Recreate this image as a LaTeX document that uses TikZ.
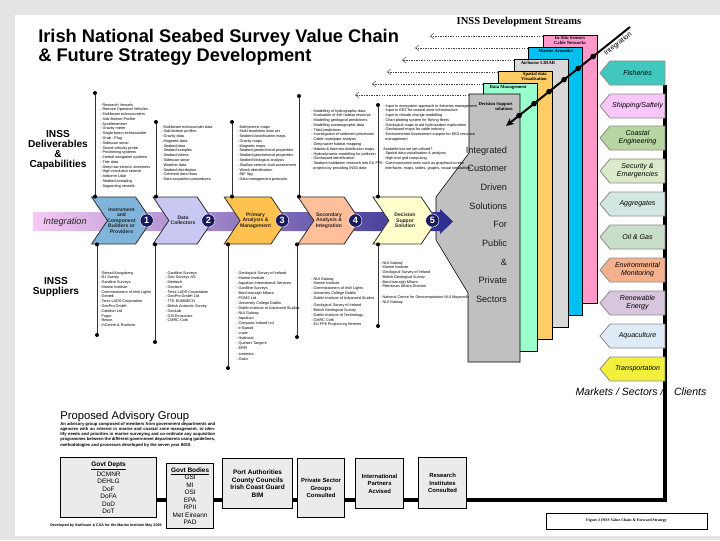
\documentclass[tikz,border=0pt]{standalone}
\usepackage{fontspec}
\setmainfont{Liberation Sans}
\newfontfamily\timesfont{Liberation Serif}
\usetikzlibrary{
  arrows.meta,
  shapes.symbols,
  positioning,
  calc,
  backgrounds
}
\definecolor{vcPage}{HTML}{E4E4E4}
\definecolor{vcBuild}{HTML}{80B4DA}
\definecolor{vcCollect}{HTML}{C8C8F2}
\definecolor{vcPrimary}{HTML}{FFC24E}
\definecolor{vcSecond}{HTML}{FFBF9A}
\definecolor{vcDecide}{HTML}{FFFFCC}
\definecolor{vcNavy}{HTML}{1A1A5E}
\definecolor{vcBandL}{HTML}{F6C8F4}
\definecolor{vcBandM}{HTML}{A47ACC}
\definecolor{vcBandR}{HTML}{2A2A8E}
\definecolor{vcSolve}{HTML}{C0C0C0}
\definecolor{stSensor}{HTML}{FF99CC}
\definecolor{stAcoustic}{HTML}{00C0F0}
\definecolor{stLidar}{HTML}{D9D9D9}
\definecolor{stVisual}{HTML}{FFCC66}
\definecolor{stData}{HTML}{99FFCC}
\definecolor{mkFish}{HTML}{40C8BE}
\definecolor{mkShip}{HTML}{F8C6F8}
\definecolor{mkCoast}{HTML}{B6D6A2}
\definecolor{mkSecure}{HTML}{DCEACC}
\definecolor{mkAggr}{HTML}{D2E6E2}
\definecolor{mkOil}{HTML}{C8DEC8}
\definecolor{mkEnv}{HTML}{F5B08E}
\definecolor{mkRenew}{HTML}{D8C6DE}
\definecolor{mkAqua}{HTML}{DEEAF6}
\definecolor{mkTrans}{HTML}{F2F03C}
\definecolor{advFill}{HTML}{EBEBEB}
\tikzset{
  chev/.style={
    signal, signal from=west, signal to=east, signal pointer angle=112,
    draw=black!80, line width=0.6pt, minimum height=1.175cm, inner sep=0pt,
    font=\fontsize{3.6}{3.9}\selectfont\bfseries, align=center, text=black!85
  },
  numdot/.style={circle, fill=vcNavy, draw=white, line width=0.3pt, text=white,
    font=\fontsize{6.5}{6.5}\selectfont\bfseries, inner sep=0pt, minimum size=3.3mm},
  dot/.style={circle, fill=black, inner sep=0pt, minimum size=1mm},
  bigdot/.style={dot, minimum size=1.4mm},
  stem/.style={line width=0.5pt, black!80},
  itemlist/.style={anchor=north west, align=left, inner sep=0pt,
    font=\fontsize{2.7}{3.4}\selectfont},
  bar/.style={draw=black, line width=0.4pt, anchor=north west,
    minimum width=1.35cm, minimum height=6.7cm, inner sep=0pt},
  barlabel/.style={font=\timesfont\bfseries\fontsize{3.3}{3.6}\selectfont,
    align=center, inner sep=0pt},
  feed/.style={-{Straight Barb[length=0.9mm,width=1.5mm]}, dash pattern=on 1pt off 0.8pt,
    line width=0.3pt, black!75},
  intline/.style={line width=1.4pt, -{Stealth[length=2mm,width=1.8mm]}},
  sign/.style={signal, signal to=west, signal pointer angle=100,
    draw=black!45, line width=0.6pt, minimum width=1.625cm, minimum height=0.6cm,
    inner sep=0pt, font=\fontsize{5}{5.6}\selectfont\itshape, align=center},
  spine/.style={line width=2.2pt},
  titletext/.style={anchor=base west, inner sep=0pt, font=\fontsize{13}{15}\selectfont\bfseries},
  sidehead/.style={font=\fontsize{7.2}{7}\selectfont\bfseries, align=center},
  solveword/.style={anchor=base east, font=\fontsize{6.5}{7}\selectfont, text=black!90},
  advbox/.style={draw, line width=0.8pt, fill=advFill, anchor=north west,
    align=center, inner sep=1pt, font=\fontsize{4.6}{5.3}\selectfont},
  capbox/.style={draw, line width=0.6pt, fill=white, minimum width=4.025cm,
    minimum height=0.4cm, font=\timesfont\bfseries\fontsize{2.8}{3}\selectfont}
}

\begin{document}
\begin{tikzpicture}[x=0.025cm, y=-0.025cm]
  \useasboundingbox (0,0) rectangle (720,540);
  \begin{scope}[on background layer]
    \fill[vcPage] (0,0) rectangle (720,540);
    \fill[white] (15,15) rectangle (720,536);
  \end{scope}

  % titles
  \node[titletext] (title1) at (38,42) {Irish National Seabed Survey Value Chain};
  \node[titletext] (title2) at (38,61) {\& Future Strategy Development};
  \node[font=\timesfont\bfseries\fontsize{7.5}{8}\selectfont] (streams) at (519,22) {INSS Development Streams};

  % development streams
  \node[bar, fill=stSensor] (sensor) at (543,35) {};
  \node[bar, fill=stAcoustic] (acoustic) at (528,47) {};
  \node[bar, fill=stLidar] (lidar) at (514,59) {};
  \node[bar, fill=stVisual] (visual) at (498,71) {};
  \node[bar, fill=stData] (datamg) at (483,83) {};
  \coordinate (solveNW) at (469,94);
  \draw[draw=black, line width=0.4pt, fill=vcSolve] (solveNW) -- (520,94) -- (520,362) -- (468,362)
    -- (468,293) -- (436,240) -- (436,197) -- (469,153) -- cycle;

  \node[barlabel] (sensLbl) at (570,40.5) {In-Situ Sensors\\Cable Networks};
  \node[barlabel] (acouLbl) at (556,51) {Marine Acoustics};
  \node[barlabel] (lidarLbl) at (538,63) {Airborne LIDAR};
  \node[barlabel, align=right] (visLbl) at (534,76) {Spatial data\\Visualisation};
  \node[barlabel] (dataLbl) at (508,87) {Data Management};
  \node[barlabel, align=right, anchor=east] (solveLbl) at (513,106) {Decision Support\\solutions};

  \foreach \k/\yy/\xx/\src in {1/36/430/sensor, 2/48/415/acoustic, 3/60/402/lidar,
                               4/72/387/visual, 5/84/372/datamg, 6/95/355/solveNW}{
    \coordinate (fd\k) at (\xx,\yy);
    \draw[feed] (fd\k -| \src.west) -- (fd\k);
  }

  % integration across the streams
  \coordinate (intA) at (506,126);
  \coordinate (intB) at (630,27);
  \draw[intline] (intB) -- (intA);
  \foreach \t in {0.105,0.226,0.347,0.468,0.581,0.702}
    \node[bigdot] at ($(intA)!\t!(intB)$) {};
  \node[rotate=38, font=\fontsize{5}{5}\selectfont] (intLbl) at (618,44) {Integration};

  % integrated solutions
  \foreach \w [count=\k] in {Integrated,Customer,Driven,Solutions,For,Public,\&,Private,Sectors}
    \node[solveword] (sw\k) at (512,{153+18.7*(\k-1)}) {\w};

  % value chain band
  \shade[left color=vcBandL, middle color=vcBandM, right color=vcBandR]
    (33,212) -- (440,212) -- (440,209) -- (453,221.5) -- (440,234) -- (440,231) -- (33,231) -- cycle;
  \node[font=\fontsize{6.5}{7}\selectfont\itshape, text=black!85] (integ) at (65,222) {Integration};

  \foreach \i/\xa/\xb/\fc/\txt in {
      1/92/151/vcBuild/{Instrument\\and\\Component\\Builders or\\Providers},
      2/153/213/vcCollect/{Data\\Collectors},
      3/228/283/vcPrimary/{Primary\\Analysis \&\\Management},
      4/298/360/vcSecond/{Secondary\\Analysis \&\\Integration},
      5/373/437/vcDecide/{Decision\\Suppor\\Solution}}{
    \node[chev, fill=\fc, minimum width={(\xb-\xa)*0.025cm}] (ch\i) at ({(\xa+\xb)/2},220.5) {\txt};
    \node[numdot] (n\i) at ([xshift=-0.13cm]ch\i.east) {\i};
  }

  \foreach \i/\xt/\yt/\xd/\yd in {1/95/93/97/335, 2/156/122/155/342, 3/232/122/228/368,
                                  4/299/96/297/337, 5/378/105/378/326}{
    \node[dot] (up\i) at (\xt,\yt) {};
    \node[dot] (dn\i) at (\xd,\yd) {};
    \draw[stem] (up\i) -- (up\i |- ch\i.north) node[dot] {};
    \draw[stem] (dn\i) -- (dn\i |- ch\i.south) node[dot] {};
  }

  % deliverables
  \node[itemlist] (capA) at (100,103) {- Research Vessels\\- Remote Operated Vehicles\\- Multibeam echosounders\\- Sub-Bottom Profiler\\- Accelerometer\\- Gravity meter\\- Single beam echosounder\\- Grab - Plug\\- Sidescan sonar\\- Sound velocity probe\\- Positioning systems\\- Inertial navigation systems\\- Tide data\\- Deep tow seismic streamers\\- High resolution seismic\\- Airborne Lidar\\- Seabed sampling\\- Supporting vessels};
  \node[itemlist] (capB) at (161,125) {- Multibeam echosounder data\\- Sub-bottom profiles\\- Gravity data\\- Magnetic data\\- Seabed data\\- Seabed samples\\- Seabed videos\\- Sidescan sonar\\- Weather data\\- Seabed distribution\\- Coherent data flows\\- Data acquisition procedures};
  \node[itemlist] (capC) at (237,125) {- Bathymetric maps\\- Multi-resolution data set\\- Seabed classification maps\\- Gravity maps\\- Magnetic maps\\- Seabed geotechnical properties\\- Seabed geochemical properties\\- Seabed biological analysis\\- Shallow seismic fault assessment\\- Wreck identification\\- INF Spy\\- Data management protocols};
  \node[itemlist] (capD) at (311,109) {- Modelling of hydrographic data\\- Evaluation of fish habitat resource\\- Modelling geological predictions\\- Modelling oceanographic data\\- Tidal predictions\\- Investigation of sediment processes\\- Cable route/pipe analysis\\- Deep water habitat mapping\\- Habitat \& biomass distribution maps\\- Hydrodynamic modelling for pollution\\- Geohazard identification\\- Seabed multibeam research into EU FP6\\\ \ projects by providing INSS data};
  \node[itemlist] (capE) at (383,104) {- Input to ecosystem approach to fisheries management\\- Input to EEZ for coastal zone infrastructure\\- Input to climate change modelling\\- Chart plotting system for fishing fleets\\- Geological maps to aid hydrocarbon exploration\\- Geohazard maps for cable industry\\- Environmental Assessment support for EEZ resource\\\ \ management\\[3.4pt] Available but not yet utilised?\\- Spatial data visualisation \& analysis\\- High end grid computing\\- Communication tools such as graphical screen\\\ \ interfaces, maps, tables, graphs, visual simulations};

  % suppliers
  \node[itemlist] (supA) at (99,271) {- Simrad Kongsberg\\- RJ Survey\\- Gardline Surveys\\- Marine Institute\\- Commissioners of Irish Lights\\- Geotek\\- Tenix LADS Corporation\\- GeoPro GmbH\\- Caledon Ltd\\- Fugro\\- Reson\\- InCentre \& Roxboro};
  \node[itemlist] (supB) at (165,271) {- Gardline Surveys\\- Geo Surveys AS\\- Meritech\\- Geotech\\- Tenix LADS Corporation\\- GeoPro GmbH Ltd\\- TTE EUMBECO\\- British Antarctic Survey\\- GeoLab\\- GSI Ecosonics\\- CMRC Cork};
  \node[itemlist, font=\fontsize{2.7}{3.6}\selectfont] (supC) at (236,271) {- Geological Survey of Ireland\\- Marine Institute\\- Aquafact International Services\\- Gardline Surveys\\- Bord Iascaigh Mhara\\- POMS Ltd\\- University College Dublin\\- Dublin Institute of Advanced Studies\\- NUI Galway\\- Aquafact\\- Compass Ireland Ltd\\- e-Spatial\\- Lowe\\- Hydrosat\\- Quester Tangent\\- ERPI\\- Ionomics\\- Coda};
  \node[itemlist] (supD) at (311,277) {- NUI Galway\\- Marine Institute\\- Commissioners of Irish Lights\\- University College Dublin\\- Dublin Institute of Advanced Studies\\[2pt]- Geological Survey of Ireland\\- British Geological Survey\\- Dublin Institute of Technology\\- CMRC Cork\\- EU FP6 Projects eg Hermes};
  \node[itemlist] (supE) at (380,261) {- NUI Galway\\- Marine Institute\\- Geological Survey of Ireland\\- British Geological Survey\\- Bord Iascaigh Mhara\\- Petroleum Affairs Division\\[4pt]- National Centre for Geocomputation NUI Maynooth\\- NUI Galway};

  \node[sidehead] (deliv) at (58,150) {INSS\\Deliverables\\\&\\Capabilities};
  \node[sidehead] (suppl) at (56,287) {INSS\\Suppliers};

  % markets
  \foreach \i/\yy/\fc/\txt in {fish/61/mkFish/Fisheries, ship/94/mkShip/{Shipping/Saftely},
      coast/126/mkCoast/{Coastal\\Engineering}, secu/159/mkSecure/{Security \&\\Emergencies},
      aggr/192/mkAggr/Aggregates, oil/225/mkOil/{Oil \& Gas},
      env/258/mkEnv/{Environmental\\Monitoring}, renew/291/mkRenew/{Renewable\\Energy},
      aqua/324/mkAqua/Aquaculture, trans/357/mkTrans/Transportation}
    \node[sign, fill=\fc] (\i) at (637.5,{\yy+12}) {\txt};
  \node[font=\fontsize{7.5}{8}\selectfont\itshape] (mkLbl) at (641,392) {Markets /\ Sectors /\quad Clients};

  % advisory group
  \node[anchor=base west, inner sep=0pt, font=\fontsize{8}{9}\selectfont] (advHead) at (60,419) {Proposed Advisory Group};
  \node[anchor=north west, text width=3.875cm, align=justify, inner sep=0pt,
        font=\fontsize{3}{3.7}\selectfont\bfseries] (advText) at (60,422)
    {An advisory group composed of members from government departments and agencies with an interest in marine and coastal zone management, to identify needs and priorities in marine surveying and co-ordinate any acquisition programmes between the different government departments using guidelines, methodologies and processes developed by the seven year INSS};
  \node[anchor=west, inner sep=0pt, font=\fontsize{2.6}{3}\selectfont\bfseries] (credit) at (50,526)
    {Developed by Swiftsure \& CSA for the Marine Institute May 2005};

  \node[advbox, minimum width=2.4cm, minimum height=1.5cm] (govd) at (60,457)
    {\underline{\textbf{Govt Depts}}\\DCMNR\\DEHLG\\DoF\\DoFA\\DoD\\DoT};
  \node[advbox, minimum width=1.175cm, minimum height=1.625cm] (govb) at (166,463)
    {\underline{\textbf{Govt Bodies}}\\GSI\\MI\\OSI\\EPA\\RPII\\Met Eireann\\PAD};
  \node[advbox, minimum width=1.75cm, minimum height=1.25cm, font=\fontsize{4.6}{5.3}\selectfont\bfseries] (port) at (222,458)
    {Port Authorities\\County Councils\\Irish Coast Guard\\BIM};
  \node[advbox, minimum width=1.175cm, minimum height=1.475cm, font=\fontsize{4.2}{5.2}\selectfont\bfseries] (priv) at (297,458)
    {Private Sector\\Groups\\Consulted};
  \node[advbox, minimum width=1.2cm, minimum height=1.25cm, font=\fontsize{4.2}{5.2}\selectfont\bfseries] (intl) at (355,458)
    {International\\Partners\\Acvised};
  \node[advbox, minimum width=1.2cm, minimum height=1.275cm, font=\fontsize{4.2}{5.2}\selectfont\bfseries] (resi) at (418,457)
    {Research\\Institutes\\Consulted};
  \node[capbox] (cap) at (626.5,521) {Figure 2 INSS Value Chain \& Forward Strategy};

  \begin{scope}[on background layer]
    \coordinate (mkBot) at (665,500);
    \draw[spine] (mkBot |- fish.south) -- (mkBot) -- (mkBot -| govd.east);
  \end{scope}
\end{tikzpicture}
\end{document}
